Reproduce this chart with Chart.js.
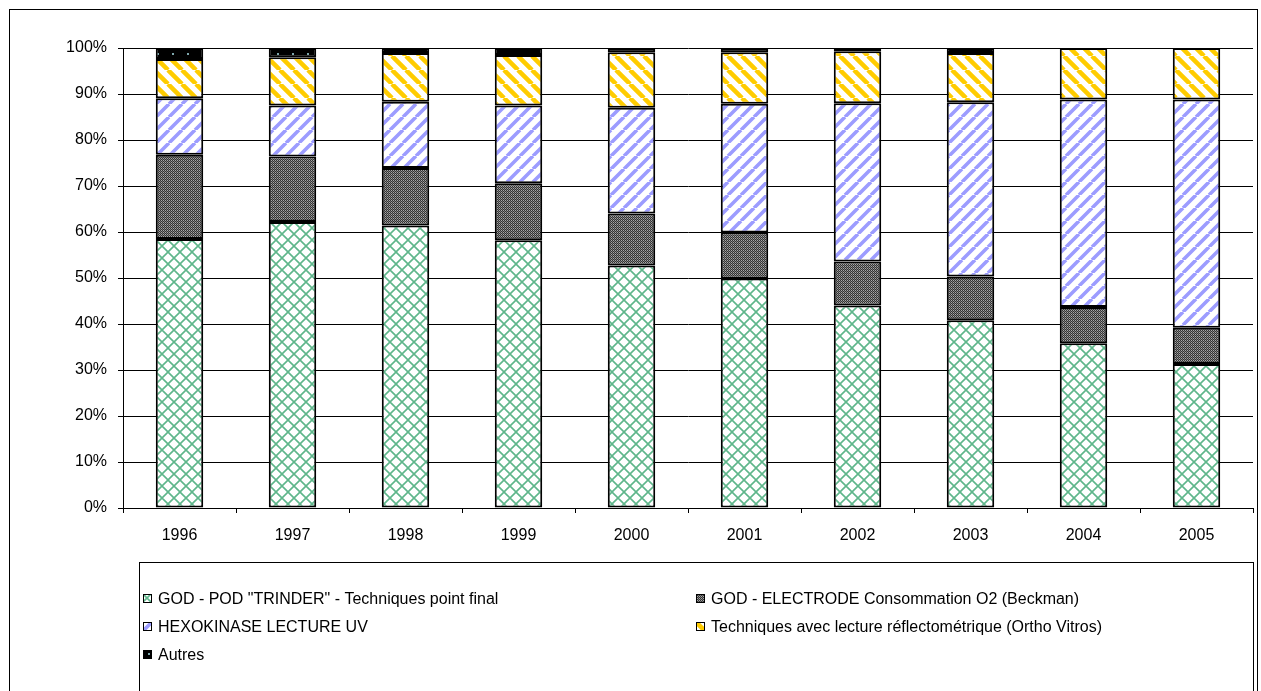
<!DOCTYPE html>
<html lang="fr">
<head>
<meta charset="UTF-8">
<title>Techniques de dosage du glucose 1996-2005</title>
<script src="https://cdn.jsdelivr.net/npm/chart.js"></script>
<style>
  html, body { margin: 0; padding: 0; background: #fff; }
  canvas { display: block; }
</style>
</head>
<body>
<canvas id="chart" width="1261" height="691"></canvas>
<script>
// categories
const years = ['1996', '1997', '1998', '1999', '2000', '2001', '2002', '2003', '2004', '2005'];

// series labels (legend order)
const seriesNames = [
  'GOD - POD "TRINDER" - Techniques point final',
  'GOD - ELECTRODE Consommation O2 (Beckman)',
  'HEXOKINASE LECTURE UV',
  'Techniques avec lecture réflectométrique (Ortho Vitros)',
  'Autres'
];

// shares in % per year (each year sums to 100)
const godPod       = [58.5, 62.2, 61.4, 58.2, 52.7, 49.9, 44.0, 40.8, 35.8, 31.3];
const godElectrode = [18.3, 14.2, 12.5, 12.4, 11.3, 10.0,  9.6,  9.5,  7.9,  7.9];
const hexokinase   = [12.3, 11.1, 14.4, 16.9, 23.0, 28.0, 34.4, 37.9, 45.1, 49.6];
const reflecto     = [ 8.5, 10.5, 10.6, 11.0, 12.1, 11.2, 11.3, 10.7, 11.2, 11.2];
const autres       = [ 2.4,  2.0,  1.1,  1.5,  0.9,  0.9,  0.7,  1.1,  0.0,  0.0];

// y axis
const yMin = 0, yMax = 100, yStep = 10;

const FONT = 'Arial, "Liberation Sans", sans-serif';
const ctx = document.getElementById('chart').getContext('2d');

// tile painters for the Excel-like fill patterns
const tiles = [
  { w: 12, h: 12, draw(g, s) {            // green lattice
      g.strokeStyle = '#5fb68b';
      g.lineWidth = 1.6;
      g.beginPath();
      g.moveTo(-1, -1); g.lineTo(s + 1, s + 1);
      g.moveTo(s + 1, -1); g.lineTo(-1, s + 1);
      g.stroke();
  } },
  { w: 2, h: 2, draw(g) {                 // dark grey dither
      g.fillStyle = '#333';
      g.fillRect(0, 0, 2, 2);
      g.fillStyle = '#a8a8a8';
      g.fillRect(1, 0, 1, 1);
      g.fillStyle = '#7a7a7a';
      g.fillRect(0, 1, 1, 1);
  } },
  { w: 13, h: 13, draw(g, s) {            // blue "/" stripes
      g.strokeStyle = '#9c9cff';
      g.lineWidth = 3.6;
      g.beginPath();
      for (const k of [-s, 0, s]) { g.moveTo(k, s); g.lineTo(k + s, 0); }
      g.stroke();
  } },
  { w: 14, h: 14, draw(g, s) {            // yellow "\" stripes
      g.strokeStyle = '#ffcc00';
      g.lineWidth = 4.5;
      g.beginPath();
      for (const k of [-s, 0, s]) { g.moveTo(k, 0); g.lineTo(k + s, s); }
      g.stroke();
  } },
  { w: 15, h: 8, draw(g) {                // black with small dots
      g.fillStyle = '#000';
      g.fillRect(0, 0, 15, 8);
      g.fillStyle = '#7fa8ad';
      g.fillRect(7, 5, 2, 2);
  } }
];

function makePattern(t) {
  const c = document.createElement('canvas');
  c.width = t.w; c.height = t.h;
  const g = c.getContext('2d');
  g.fillStyle = '#fff';
  g.fillRect(0, 0, t.w, t.h);
  t.draw(g, t.w, t.h);
  return ctx.createPattern(c, 'repeat');
}

const fills = tiles.map(makePattern);
const values = [godPod, godElectrode, hexokinase, reflecto, autres];

// outer chart frame drawn on the canvas
const framePlugin = {
  id: 'frame',
  beforeDraw(chart) {
    const c = chart.ctx;
    c.save();
    c.fillStyle = '#fff';
    c.fillRect(0, 0, chart.width, chart.height);
    c.strokeStyle = '#000';
    c.lineWidth = 1;
    c.strokeRect(9.5, 9.5, 1248, 700);
    c.restore();
  }
};

// two-column legend inside a box, like the spreadsheet one
const legendPlugin = {
  id: 'gridLegend',
  afterDraw(chart) {
    const c = chart.ctx;
    c.save();
    c.strokeStyle = '#000';
    c.lineWidth = 1;
    c.strokeRect(139.5, 562.5, 1114, 140);
    const colX = [143, 696];
    const rowY = [599, 627, 655];
    c.font = '16px ' + FONT;
    c.textBaseline = 'middle';
    chart.data.datasets.forEach((ds, i) => {
      const x = colX[i % 2];
      const y = rowY[Math.floor(i / 2)];
      // own pattern copy, shifted so the swatch shows a piece of the motif
      const p = makePattern(tiles[i]);
      p.setTransform(new DOMMatrix().translate(x - 2, y - 7));
      c.fillStyle = p;
      c.fillRect(x, y - 5, 9, 9);
      c.strokeStyle = '#000';
      c.strokeRect(x + 0.5, y - 4.5, 8, 8);
      c.fillStyle = '#000';
      c.fillText(ds.label, x + 15, y + 1);
    });
    c.restore();
  }
};

const chart = new Chart(ctx, {
  type: 'bar',
  data: {
    labels: years,
    datasets: seriesNames.map((name, i) => ({
      label: name,
      data: values[i],
      backgroundColor: fills[i],
      borderColor: '#000',
      borderWidth: 2,
      borderSkipped: false,
      categoryPercentage: 1,
      barPercentage: 0.42
    }))
  },
  options: {
    responsive: false,
    animation: false,
    devicePixelRatio: 1,
    layout: { padding: { left: 0, top: 48, right: 8, bottom: 133 } },
    plugins: {
      legend: { display: false },
      tooltip: { enabled: false }
    },
    scales: {
      x: {
        stacked: true,
        grid: { drawOnChartArea: false, drawTicks: true, tickLength: 5, color: '#000', offset: true },
        border: { color: '#000', width: 1 },
        ticks: { color: '#000', font: { family: FONT, size: 16 }, padding: 13, maxRotation: 0 },
        afterFit(scale) { scale.height = 50; }
      },
      y: {
        stacked: true,
        min: yMin,
        max: yMax,
        grid: { color: '#000', lineWidth: 1, tickLength: 5 },
        border: { color: '#000', width: 1 },
        ticks: {
          stepSize: yStep,
          color: '#000',
          font: { family: FONT, size: 16 },
          padding: 11,
          callback: v => v + '%'
        },
        afterFit(scale) { scale.width = 123; }
      }
    }
  },
  plugins: [framePlugin, legendPlugin]
});
</script>
</body>
</html>
